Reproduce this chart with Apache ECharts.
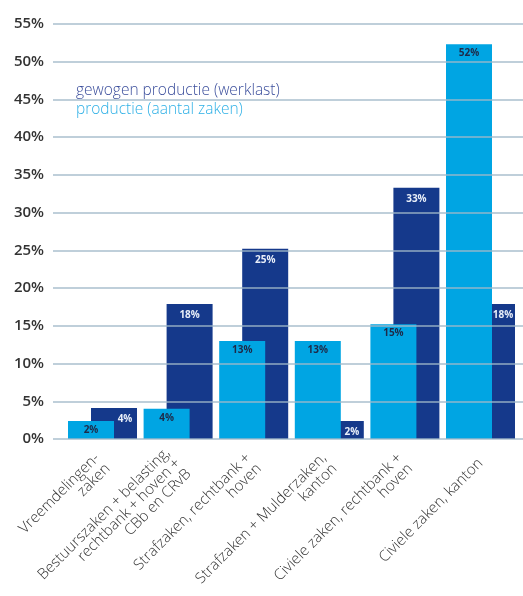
<!DOCTYPE html>
<html>
<head>
<meta charset="utf-8">
<script src="https://cdn.jsdelivr.net/npm/echarts@6/dist/echarts.min.js"></script>
<style>
  html, body { margin: 0; padding: 0; background: #ffffff; }
  #chart { width: 523px; height: 596px; }
</style>
</head>
<body>
<div id="chart"></div>
<script>
// ---- data ----
const categories = [
  'Vreemdelingen-\nzaken',
  'Bestuurszaken + belasting,\nrechtbank + hoven +\nCBb en CRvB',
  'Strafzaken, rechtbank +\nhoven',
  'Strafzaken + Mulderzaken,\nkanton',
  'Civiele zaken, rechtbank +\nhoven',
  'Civiele zaken, kanton'
];
const seriesNames = ['productie (aantal zaken)', 'gewogen productie (werklast)'];
const productieValues = [2.4, 4.0, 13.0, 13.0, 15.2, 52.3];
const gewogenValues = [4.1, 17.9, 25.2, 2.4, 33.3, 17.9];
const yMin = 0, yMax = 55, yStep = 5;

// ---- styles ----
const LIGHT = '#00a5e3';
const DARK = '#15398b';
const GRID_TOP = 24, GRID_BOTTOM = 157;
const FONT = '"Open Sans", Lato, sans-serif';

const chart = echarts.init(document.getElementById('chart'), null, { renderer: 'canvas' });

// dark labels that would sit under the lighter bar get shifted to the visible part
const darkData = gewogenValues.map((v, i) => {
  const covered = v < productieValues[i] + 3;
  return {
    value: v,
    label: covered ? { offset: [11, 0] } : {}
  };
});

const option = {
  backgroundColor: '#ffffff',
  animation: false,
  legend: {
    orient: 'vertical',
    left: 66,
    top: 78,
    icon: 'none',
    itemWidth: 0,
    itemHeight: 0,
    itemGap: 3,
    selectedMode: false,
    textStyle: { fontFamily: FONT, fontSize: 15.5, fontWeight: 300 },
    data: [
      { name: seriesNames[1], textStyle: { color: '#3b4e9c' } },
      { name: seriesNames[0], textStyle: { color: '#2eb0e6' } }
    ]
  },
  grid: [
    { left: 53, right: 0, top: GRID_TOP, bottom: GRID_BOTTOM, containLabel: false, outerBoundsMode: 'none' },
    { left: 64.7, right: 4.7, top: GRID_TOP, bottom: GRID_BOTTOM, containLabel: false, outerBoundsMode: 'none' }
  ],
  xAxis: [
    { type: 'category', gridIndex: 0, data: categories, show: false },
    {
      type: 'category', gridIndex: 1, data: categories,
      axisLine: { show: false }, axisTick: { show: false },
      axisLabel: {
        rotate: 45, interval: 0, margin: 22, hideOverlap: false,
        fontFamily: FONT, fontSize: 15, fontWeight: 300, color: '#333333',
        lineHeight: 15
      }
    }
  ],
  yAxis: [
    {
      type: 'value', gridIndex: 0, min: yMin, max: yMax, interval: yStep, z: 5,
      axisLine: { show: false }, axisTick: { show: false },
      splitLine: { show: true, lineStyle: { color: 'rgba(160,184,200,0.9)', width: 1.5 } },
      axisLabel: {
        margin: 9, fontFamily: FONT, fontSize: 15, fontWeight: 600, color: '#333333',
        formatter: v => v + '%'
      }
    },
    {
      type: 'value', gridIndex: 1, min: yMin, max: yMax, interval: yStep,
      show: false, splitLine: { show: false }
    }
  ],
  series: [
    {
      name: seriesNames[0], type: 'bar', xAxisIndex: 1, yAxisIndex: 1,
      data: productieValues, barWidth: 46, barGap: '-50%', z: 3,
      itemStyle: { color: LIGHT },
      label: {
        show: true, position: 'insideTop', distance: 4,
        fontFamily: FONT, fontSize: 10, fontWeight: 'bold', color: '#1e2a48',
        formatter: p => Math.round(p.value) + '%'
      }
    },
    {
      name: seriesNames[1], type: 'bar', xAxisIndex: 1, yAxisIndex: 1,
      data: darkData, barWidth: 46, z: 2,
      itemStyle: { color: DARK },
      label: {
        show: true, position: 'insideTop', distance: 6,
        fontFamily: FONT, fontSize: 10, fontWeight: 'bold', color: '#e8eef8',
        formatter: p => Math.round(p.value) + '%'
      }
    }
  ]
};
chart.setOption(option);
</script>
</body>
</html>
